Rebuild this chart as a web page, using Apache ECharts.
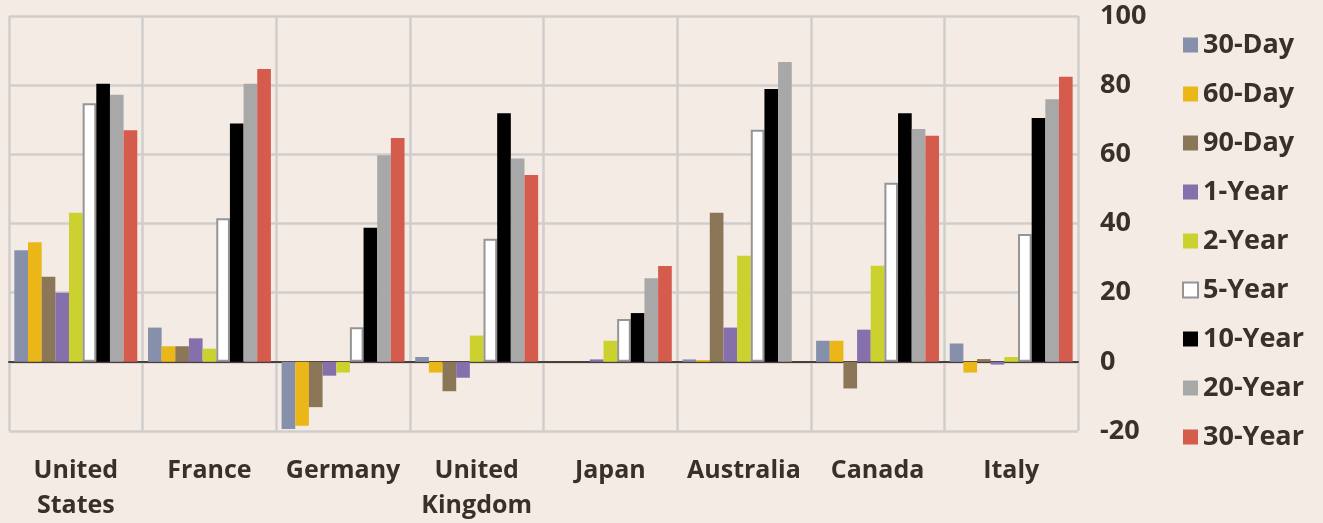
<!DOCTYPE html>
<html>
<head>
<meta charset="utf-8">
<script src="https://cdn.jsdelivr.net/npm/echarts@6/dist/echarts.min.js"></script>
<style>
html,body{margin:0;padding:0;background:#F4EBE4;}
#chart{width:1323px;height:523px;}
</style>
</head>
<body>
<div id="chart"></div>
<script>
const categories = ['United\nStates', 'France', 'Germany', 'United\nKingdom', 'Japan', 'Australia', 'Canada', 'Italy'];
const seriesNames = ['30-Day', '60-Day', '90-Day', '1-Year', '2-Year', '5-Year', '10-Year', '20-Year', '30-Year'];
const day30  = [32.3, 9.9, -19.4, 1.4, 0, 0.7, 6.1, 5.3];
const day60  = [34.6, 4.5, -18.5, -3.1, 0, 0.5, 6.1, -3.1];
const day90  = [24.6, 4.5, -13.1, -8.5, 0, 43.1, -7.7, 0.8];
const year1  = [20.0, 6.8, -4.0, -4.6, 0.7, 9.9, 9.3, -0.8];
const year2  = [43.1, 3.8, -3.1, 7.6, 6.1, 30.7, 27.8, 1.4];
const year5  = [74.8, 41.5, 10.0, 35.6, 12.4, 67.1, 51.8, 37.0];
const year10 = [80.4, 68.9, 38.8, 71.9, 14.1, 78.9, 71.9, 70.5];
const year20 = [77.2, 80.4, 59.7, 58.8, 24.2, 86.7, 67.3, 75.9];
const year30 = [67.0, 84.7, 64.7, 54.0, 27.7, null, 65.4, 82.4];
const yTicks = [-20, 0, 20, 40, 60, 80, 100];

const seriesData = [day30, day60, day90, year1, year2, year5, year10, year20, year30];
const colors = ['#8790AB', '#EAB618', '#8B7758', '#8670AC', '#CBD22F', '#FFFFFF', '#000000', '#A8A8A8', '#D55B4C'];
const textColor = '#3A302B';
const font = '"Open Sans", sans-serif';

const chart = echarts.init(document.getElementById('chart'));
chart.setOption({
  backgroundColor: '#F4EBE4',
  animation: false,
  grid: { left: 9, right: 245, top: 16, bottom: 92, containLabel: false },
  legend: {
    orient: 'vertical',
    left: 1177,
    top: 25,
    itemWidth: 15,
    itemHeight: 15,
    itemGap: 19,
    icon: 'rect',
    data: seriesNames,
    textStyle: { color: textColor, fontSize: 27, fontWeight: 700, fontFamily: font, lineHeight: 30 }
  },
  xAxis: {
    type: 'category',
    data: categories,
    axisTick: { show: false },
    axisLine: { show: true, onZero: true, lineStyle: { color: '#4A3F3A', width: 2 } },
    axisLabel: {
      color: textColor, fontSize: 25, fontWeight: 700, fontFamily: font,
      lineHeight: 35, margin: 22, interval: 0
    },
    splitLine: { show: true, interval: 0, lineStyle: { color: '#D0CECC', width: 2.5 } }
  },
  yAxis: {
    type: 'value',
    position: 'right',
    min: yTicks[0],
    max: yTicks[yTicks.length - 1],
    interval: 20,
    axisLine: { show: false },
    axisTick: { show: false },
    axisLabel: { color: textColor, fontSize: 27, fontWeight: 700, fontFamily: font, margin: 22, align: 'left' },
    splitLine: { show: true, lineStyle: { color: '#D0CECC', width: 2.5 } }
  },
  series: seriesNames.map((name, i) => ({
    name: name,
    type: 'bar',
    data: seriesData[i],
    barGap: '0%',
    barCategoryGap: '8%',
    itemStyle: i === 5
      ? { color: colors[i], borderColor: '#959595', borderWidth: 2 }
      : { color: colors[i] }
  }))
});
</script>
</body>
</html>
